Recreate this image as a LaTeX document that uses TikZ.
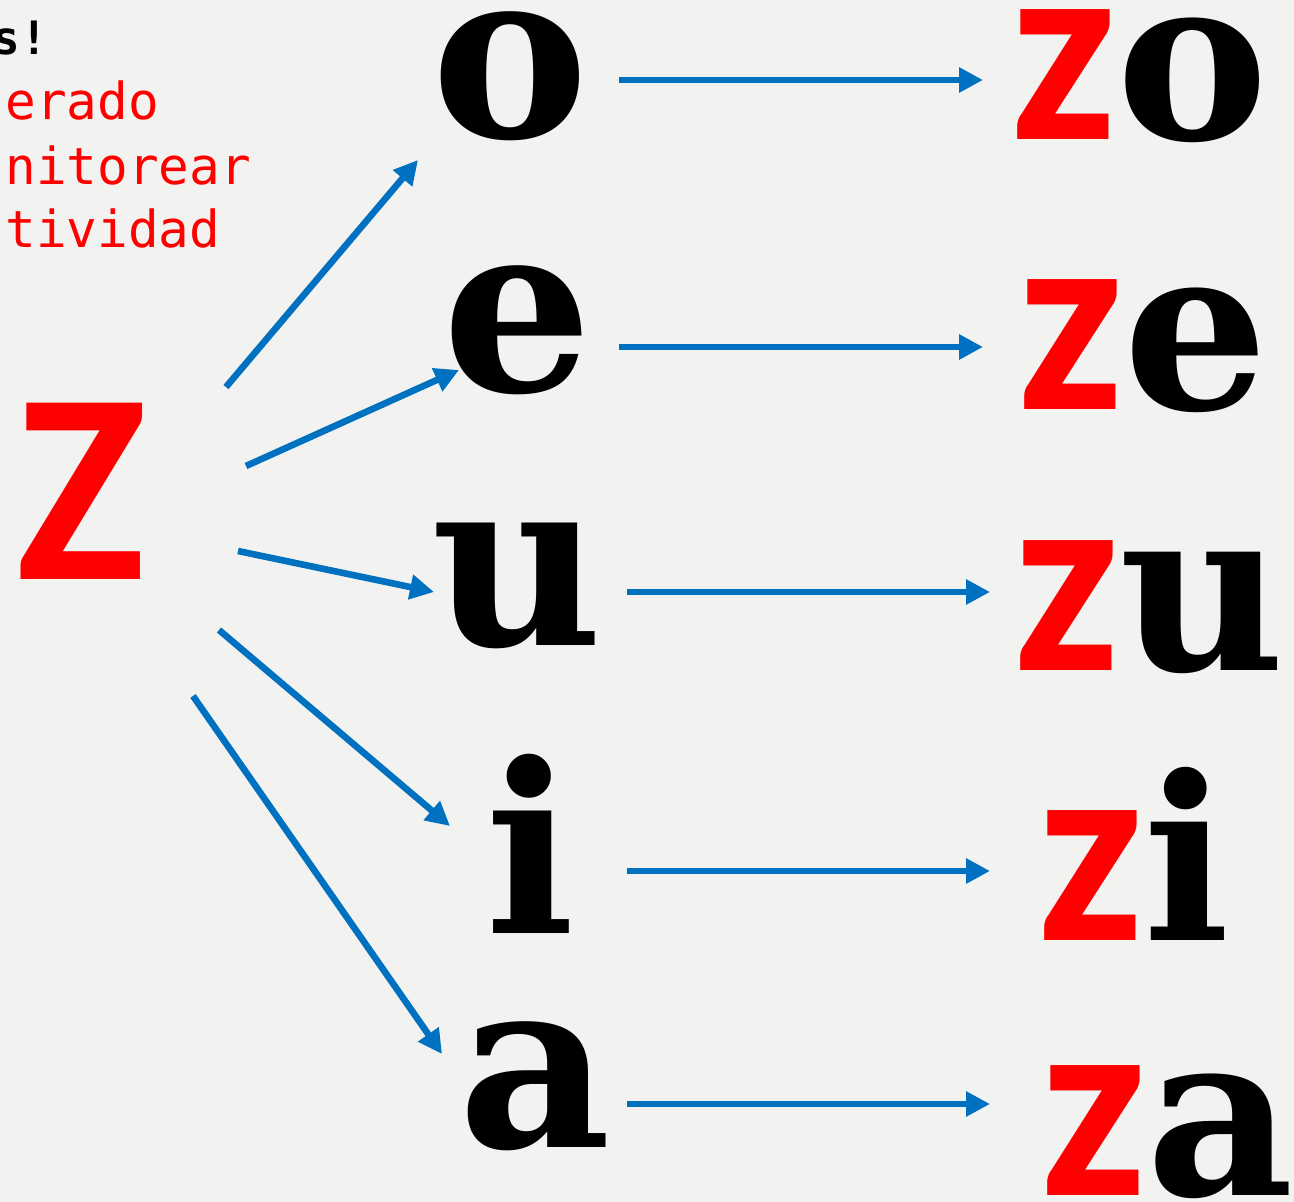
\documentclass[tikz,border=0pt]{standalone}
\usepackage{fontspec}
\usepackage{tikz}
\usetikzlibrary{arrows.meta}

\newfontfamily\zfont{Carlito}[BoldFont=* Bold]
\newfontfamily\vfont{DejaVu Serif}
\newfontfamily\mfont{DejaVu Sans Mono}

\definecolor{bgcol}{HTML}{F2F2F0}
\definecolor{arrblue}{HTML}{0070C0}
\definecolor{zred}{HTML}{FF0000}

\begin{document}
\begin{tikzpicture}[x=0.5pt,y=-0.5pt,
	arr/.style={draw=arrblue,line width=3.3pt,-{Triangle[length=12pt,width=12pt]}},
	vowel/.style={anchor=base,inner sep=0,font=\vfont\bfseries\fontsize{118}{118}\selectfont},
	syl/.style={anchor=base west,inner sep=0},
	note/.style={anchor=base west,inner sep=0,text=zred,font=\mfont\fontsize{25.5}{25.5}\selectfont}]
	\def\zs{\zfont\bfseries\fontsize{134}{134}\selectfont\color{zred}z}	%red z
	\def\vs{\vfont\bfseries\fontsize{114}{114}\selectfont\color{black}}	%vowel after z
	
	%BACKGROUND
	\fill[bgcol] (0,0) rectangle (1294,1202);
	\useasboundingbox (0,0) rectangle (1294,1202);
	
	%TOP LEFT TEXT
	\node[anchor=base west,inner sep=0,font=\mfont\bfseries\fontsize{23}{23}\selectfont] (excl) at (-8,55) {s!};
	\node[note] (l1) at (5,120) {erado};
	\node[note] (l2) at (5,185) {nitorear};
	\node[note] (l3) at (5,248) {tividad};
	
	%BIG Z
	\node[anchor=base,inner sep=0,text=zred,font=\zfont\bfseries\fontsize{136}{136}\selectfont] (Z) at (82,580) {Z};
	
	%VOWELS
	\node[vowel] (o) at (510,138) {o};
	\node[vowel] (e) at (518,392) {e};
	\node[vowel] (u) at (517,645) {u};
	\node[vowel] (i) at (530,933) {i};
	\node[vowel] (a) at (535,1147) {a};
	
	%SYLLABLES
	\node[syl] (zo) at (1010,140) {\zs{\vs o}};
	\node[syl] (ze) at (1017,410) {\zs{\vs e}};
	\node[syl] (zu) at (1013,670) {\zs{\vs u}};
	\node[syl] (zi) at (1037,940) {\zs{\vs i}};
	\node[syl] (za) at (1040,1195) {\zs{\vs a}};
	
	%ARROW ENDS
	\coordinate (zo-a) at (226,387);	\coordinate (zo-b) at (418,160);
	\coordinate (ze-a) at (246,466);	\coordinate (ze-b) at (459,370);
	\coordinate (zu-a) at (238,551);	\coordinate (zu-b) at (434,592);
	\coordinate (zi-a) at (219,630);	\coordinate (zi-b) at (450,826);
	\coordinate (za-a) at (193,696);	\coordinate (za-b) at (442,1054);
	%
	\coordinate (o-a) at (619,80);		\coordinate (o-b) at (983,80);
	\coordinate (e-a) at (619,347);		\coordinate (e-b) at (983,347);
	\coordinate (u-a) at (627,592);		\coordinate (u-b) at (990,592);
	\coordinate (i-a) at (627,871);		\coordinate (i-b) at (990,871);
	\coordinate (a-a) at (627,1104);	\coordinate (a-b) at (990,1104);
	
	%ARROWS
	\draw[arr] (zo-a) -- (zo-b);
	\draw[arr] (ze-a) -- (ze-b);
	\draw[arr] (zu-a) -- (zu-b);
	\draw[arr] (zi-a) -- (zi-b);
	\draw[arr] (za-a) -- (za-b);
	%
	\draw[arr] (o-a) -- (o-b);
	\draw[arr] (e-a) -- (e-b);
	\draw[arr] (u-a) -- (u-b);
	\draw[arr] (i-a) -- (i-b);
	\draw[arr] (a-a) -- (a-b);
\end{tikzpicture}
\end{document}
